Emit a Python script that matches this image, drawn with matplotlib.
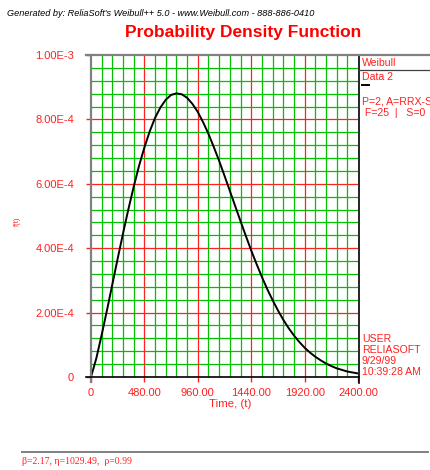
import matplotlib
matplotlib.use("Agg")
import matplotlib.pyplot as plt
from matplotlib.lines import Line2D

# values, every 48 time units
t = list(range(0, 2401, 48))
pdf = [0, 5.83e-5, 1.31e-4, 2.08e-4, 2.88e-4, 3.68e-4, 4.46e-4, 5.21e-4,
       5.91e-4, 6.56e-4, 7.13e-4, 7.63e-4, 8.05e-4, 8.37e-4, 8.61e-4,
       8.76e-4, 8.81e-4, 8.78e-4, 8.67e-4, 8.48e-4, 8.23e-4, 7.91e-4,
       7.55e-4, 7.14e-4, 6.71e-4, 6.25e-4, 5.78e-4, 5.31e-4, 4.84e-4,
       4.38e-4, 3.93e-4, 3.51e-4, 3.11e-4, 2.73e-4, 2.39e-4, 2.07e-4,
       1.78e-4, 1.52e-4, 1.29e-4, 1.09e-4, 9.1e-5, 7.6e-5, 6.3e-5, 5.2e-5,
       4.2e-5, 3.4e-5, 2.7e-5, 2.2e-5, 1.7e-5, 1.4e-5, 1.1e-5]

xticks = [0, 480, 960, 1440, 1920, 2400]
xlabels = ["0", "480.00", "960.00", "1440.00", "1920.00", "2400.00"]
yticks = [0, 2e-4, 4e-4, 6e-4, 8e-4, 1e-3]
ylabels = ["0", "2.00E-4", "4.00E-4", "6.00E-4", "8.00E-4", "1.00E-3"]
panel_top = ["Weibull", "Data 2"]
panel_info = ["P=2, A=RRX-S", " F=25  |   S=0"]
panel_bottom = ["USER", "RELIASOFT", "9/29/99", "10:39:28 AM"]

RED = "#ff2020"
GREEN = "#00c000"
W, H = 430, 470
plt.rcParams['font.family'] = ['Liberation Sans', 'DejaVu Sans']

fig = plt.figure(figsize=(W / 100, H / 100), dpi=100)

def fx(px):
    return px / W

def fy(py):
    return 1 - py / H

ax = fig.add_axes([fx(91), fy(377), fx(358) - fx(91), fy(55) - fy(377)])
ax.set_xlim(0, 2400)
ax.set_ylim(0, 1e-3)

# grid: green minor, red major
for i in range(1, 25):
    ax.axvline(i * 96, color=RED if i % 5 == 0 else GREEN, lw=0.9, zorder=1)
    ax.axhline(i * 0.4e-4, color=RED if i % 5 == 0 else GREEN, lw=0.9, zorder=1)

ax.plot(t, pdf, color="black", lw=1.4, zorder=3)

for s in ax.spines.values():
    s.set_visible(False)

ax.set_xticks(xticks)
ax.set_xticklabels(xlabels)
ax.set_yticks(yticks)
ax.set_yticklabels(ylabels)
ax.tick_params(axis="both", colors=RED, labelcolor=RED, labelsize=8,
               length=3.6, width=1)
ax.tick_params(axis="x", pad=4.5)
ax.tick_params(axis="y", pad=8.5)
for tk in (ax.xaxis.get_major_ticks()[0], ax.xaxis.get_major_ticks()[-1]):
    tk.tick1line.set_color("black")
ax.yaxis.get_major_ticks()[0].tick1line.set_color("black")
ax.yaxis.get_major_ticks()[-1].tick1line.set_color("gray")

# frame lines in figure pixels
def hline(y, x0, x1, color, lw=1.2):
    fig.add_artist(Line2D([fx(x0), fx(x1)], [fy(y), fy(y)], color=color, lw=lw))

def vline(x, y0, y1, color, lw=1.2):
    fig.add_artist(Line2D([fx(x), fx(x)], [fy(y0), fy(y1)], color=color, lw=lw))

vline(91, 55, 382, "gray", 1.6)
hline(377, 86, 358.5, "black", 1.2)
vline(358.5, 55, 383, "black", 1.2)
hline(55, 86, 430, "gray", 1.6)
hline(69.5, 358.5, 430, "#404040", 0.9)
hline(84.5, 362, 369, "black", 1.4)
hline(452, 22, 428, "gray", 1.4)

# texts
fig.text(fx(7), fy(14), "Generated by: ReliaSoft's Weibull++ 5.0 - www.Weibull.com - 888-886-0410",
         fontsize=6.6, style="italic", color="black", va="center")
fig.text(fx(243), fy(33), "Probability Density Function", fontsize=12.5,
         fontweight="bold", color="red", ha="center", va="center")
fig.text(fx(17), fy(221), "f(t)", fontsize=5.5, color=RED, rotation=90,
         ha="center", va="center")
fig.text(fx(230), fy(404), "Time, (t)", fontsize=8.2, color=RED,
         ha="center", va="center")

for i, s in enumerate(panel_top):
    fig.text(fx(362), fy(63 + i * 13.5), s, fontsize=7.6, color=RED, va="center")
for i, s in enumerate(panel_info):
    fig.text(fx(362), fy(101 + i * 12.5), s, fontsize=7.6, color=RED, va="center")
for i, s in enumerate(panel_bottom):
    fig.text(fx(362), fy(339 + i * 11), s, fontsize=7.6, color=RED, va="center")

fig.text(fx(22), fy(461), "\u03b2=2.17, \u03b7=1029.49,  \u03c1=0.99", fontsize=7,
         family=["Liberation Serif", "DejaVu Serif"], color=RED, va="center")

fig.savefig("out.png", dpi=100, facecolor="white")
